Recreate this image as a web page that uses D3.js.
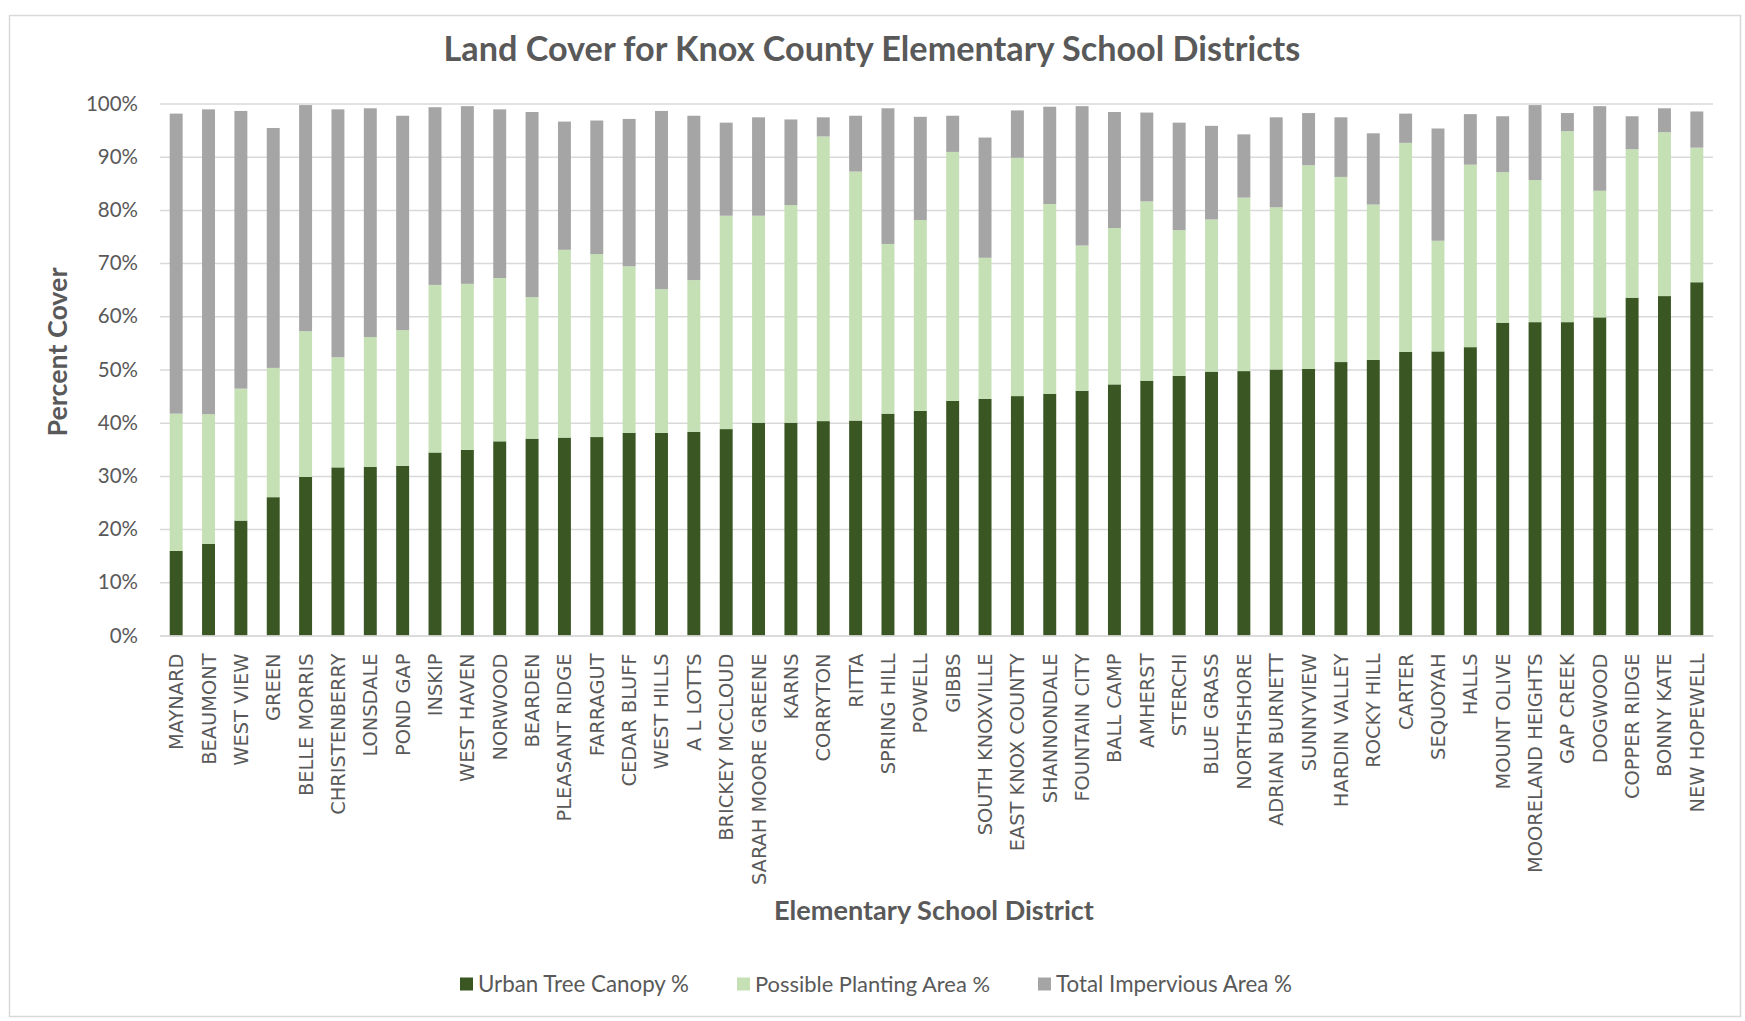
<!DOCTYPE html>
<html>
<head>
<meta charset="utf-8">
<script src="https://cdn.jsdelivr.net/npm/d3@7"></script>
<style>
  html, body { margin: 0; padding: 0; background: #ffffff; }
  svg { display: block; }
</style>
</head>
<body>
<svg id="chart" width="1745" height="1021"></svg>
<script>
// ---------------- DATA ----------------
const categories = [
  "MAYNARD","BEAUMONT","WEST VIEW","GREEN","BELLE MORRIS","CHRISTENBERRY","LONSDALE","POND GAP",
  "INSKIP","WEST HAVEN","NORWOOD","BEARDEN","PLEASANT RIDGE","FARRAGUT","CEDAR BLUFF","WEST HILLS",
  "A L LOTTS","BRICKEY MCCLOUD","SARAH MOORE GREENE","KARNS","CORRYTON","RITTA","SPRING HILL","POWELL",
  "GIBBS","SOUTH KNOXVILLE","EAST KNOX COUNTY","SHANNONDALE","FOUNTAIN CITY","BALL CAMP","AMHERST","STERCHI",
  "BLUE GRASS","NORTHSHORE","ADRIAN BURNETT","SUNNYVIEW","HARDIN VALLEY","ROCKY HILL","CARTER","SEQUOYAH",
  "HALLS","MOUNT OLIVE","MOORELAND HEIGHTS","GAP CREEK","DOGWOOD","COPPER RIDGE","BONNY KATE","NEW HOPEWELL"
];
const urbanTreeCanopy = [
  15.9,17.2,21.6,26.0,29.8,31.6,31.7,31.9,
  34.4,34.9,36.5,37.0,37.2,37.3,38.1,38.1,
  38.3,38.8,40.0,40.0,40.3,40.4,41.7,42.2,
  44.1,44.5,45.0,45.4,46.0,47.2,47.9,48.8,
  49.6,49.7,50.0,50.1,51.4,51.8,53.3,53.4,
  54.2,58.8,58.9,58.9,59.8,63.5,63.8,66.4
];
const possiblePlanting = [
  25.8,24.4,24.8,24.3,27.4,20.7,24.4,25.5,
  31.5,31.2,30.7,26.6,35.3,34.4,31.3,27.0,
  28.5,40.1,38.9,40.9,53.5,46.8,31.9,35.9,
  46.8,26.5,44.8,35.7,27.3,29.4,33.7,27.4,
  28.6,32.6,30.5,38.3,34.8,29.2,39.3,20.8,
  34.3,28.3,26.7,35.9,23.8,27.9,30.8,25.3
];
const totalImpervious = [
  56.4,57.3,52.2,45.1,42.5,46.6,43.0,40.3,
  33.4,33.4,31.7,34.8,24.1,25.1,27.7,33.5,
  30.9,17.5,18.5,16.1,3.6,10.5,25.5,19.4,
  6.8,22.6,8.9,18.3,26.2,21.8,16.7,20.2,
  17.6,11.9,16.9,9.8,11.2,13.4,5.5,21.1,
  9.5,10.5,14.1,3.4,15.9,6.2,4.5,6.8
];
const seriesNames = ["Urban Tree Canopy %","Possible Planting Area %","Total Impervious Area %"];
const seriesColors = ["#3A5723","#C5E0B4","#A5A5A5"];
const yTickValues = [0,10,20,30,40,50,60,70,80,90,100];

const titleText = "Land Cover for Knox County Elementary School Districts";
const yTitleText = "Percent Cover";
const xTitleText = "Elementary School District";

// ---------------- LAYOUT ----------------
const W = 1745, H = 1021;
const plot = { left: 160, right: 1713, top: 103.5, bottom: 635.5 };
const textColor = "#595959";
const gridColor = "#D9D9D9";
const uiFont = "Lato, 'Open Sans', sans-serif";
const labelFont = "'DejaVu Sans', Verdana, sans-serif";

const svg = d3.select("#chart");

// chart border
svg.append("rect")
  .attr("x", 9.5).attr("y", 15.5)
  .attr("width", 1731).attr("height", 1001)
  .attr("fill", "#ffffff").attr("stroke", gridColor).attr("stroke-width", 1.5);

function fitWidth(sel, target, startSize) {
  sel.style("font-size", startSize + "px");
  const w = sel.node().getComputedTextLength();
  const s = startSize * target / w;
  sel.style("font-size", s.toFixed(2) + "px");
  return s;
}

// ---------------- SCALES ----------------
const x = d3.scaleBand()
  .domain(categories)
  .range([plot.left, plot.right])
  .paddingInner(0.6)
  .paddingOuter(0.3);

const y = d3.scaleLinear()
  .domain([0, 100])
  .range([plot.bottom, plot.top]);

// ---------------- GRID + Y AXIS ----------------
const yAxis = d3.axisLeft(y)
  .tickValues(yTickValues)
  .tickFormat(d => d + "%")
  .tickSizeInner(-(plot.right - plot.left))
  .tickSizeOuter(0)
  .tickPadding(22);

const gy = svg.append("g")
  .attr("transform", `translate(${plot.left},0)`)
  .call(yAxis);
gy.select(".domain").remove();
gy.selectAll(".tick line").attr("stroke", gridColor).attr("stroke-width", 1.5);
gy.selectAll(".tick text")
  .attr("fill", textColor)
  .style("font-family", uiFont)
  .style("font-size", "20.5px");

// ---------------- BARS ----------------
const rows = categories.map((c, i) => ({
  name: c,
  s0: urbanTreeCanopy[i],
  s1: possiblePlanting[i],
  s2: totalImpervious[i]
}));
const stack = d3.stack().keys(["s0", "s1", "s2"]);
const layers = stack(rows);

svg.append("g")
  .selectAll("g")
  .data(layers)
  .join("g")
  .attr("fill", (d, i) => seriesColors[i])
  .selectAll("rect")
  .data(d => d)
  .join("rect")
  .attr("x", d => x(d.data.name))
  .attr("width", x.bandwidth())
  .attr("y", d => y(d[1]))
  .attr("height", d => y(d[0]) - y(d[1]));

// ---------------- X AXIS ----------------
const xAxis = d3.axisBottom(x).tickSize(0).tickPadding(0);
const gx = svg.append("g")
  .attr("transform", `translate(0,${plot.bottom})`)
  .call(xAxis);
gx.select(".domain").attr("stroke", gridColor).attr("stroke-width", 1.5);
gx.selectAll(".tick text")
  .attr("transform", "rotate(-90)")
  .attr("text-anchor", "end")
  .attr("x", -18)
  .attr("y", 0)
  .attr("dy", "0.36em")
  .attr("fill", textColor)
  .style("font-family", labelFont)
  .style("font-size", "19.4px");

// ---------------- TITLES ----------------
const title = svg.append("text")
  .attr("x", 872).attr("y", 61)
  .attr("text-anchor", "middle")
  .attr("fill", textColor)
  .style("font-family", uiFont)
  .style("font-weight", "700")
  .text(titleText);
fitWidth(title, 857, 30);

const yTitle = svg.append("text")
  .attr("transform", "translate(67,352) rotate(-90)")
  .attr("text-anchor", "middle")
  .attr("fill", textColor)
  .style("font-family", uiFont)
  .style("font-weight", "700")
  .text(yTitleText);
fitWidth(yTitle, 169, 22);

const xTitle = svg.append("text")
  .attr("x", 934).attr("y", 920)
  .attr("text-anchor", "middle")
  .attr("fill", textColor)
  .style("font-family", uiFont)
  .style("font-weight", "700")
  .text(xTitleText);
fitWidth(xTitle, 320, 22);

// ---------------- LEGEND ----------------
const legendX = [460, 737, 1038];
const legendW = [211, 235, 236];
const legendY = 984;
const lg = svg.append("g");
seriesNames.forEach((name, i) => {
  lg.append("rect")
    .attr("x", legendX[i]).attr("y", legendY - 6.5)
    .attr("width", 13).attr("height", 13)
    .attr("fill", seriesColors[i]);
  const t = lg.append("text")
    .attr("x", legendX[i] + 18).attr("y", legendY)
    .attr("dy", "0.35em")
    .attr("fill", textColor)
    .style("font-family", uiFont)
    .text(name);
  fitWidth(t, legendW[i], 20);
});
</script>
</body>
</html>
